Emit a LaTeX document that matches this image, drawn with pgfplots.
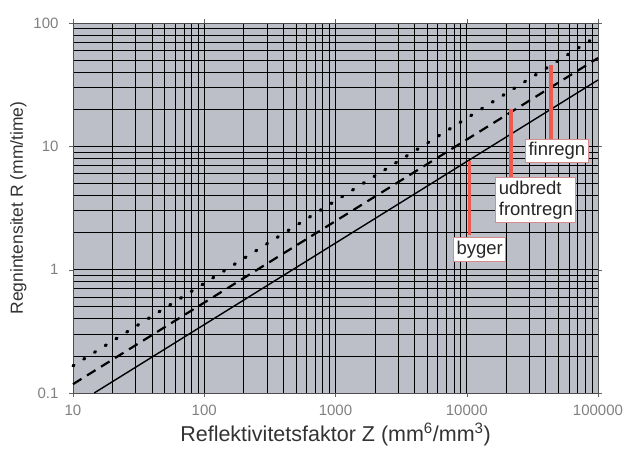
\documentclass[border=0pt]{standalone}
\usepackage{pgfplots}
\pgfplotsset{compat=1.18}
\usepackage{fontspec}
\setmainfont{Liberation Sans}
\definecolor{bggray}{RGB}{188,191,200}
\definecolor{redline}{RGB}{238,90,78}
\definecolor{boxedge}{RGB}{215,140,140}
\begin{document}
\begin{tikzpicture}
\useasboundingbox (-73pt,-60pt) rectangle (554pt,393pt);
\begin{axis}[
  scale only axis, width=525pt, height=370pt,
  xmode=log, ymode=log,
  xmin=10, xmax=100000, ymin=0.1, ymax=100,
  axis background/.style={fill=bggray},
  grid=both,
  major grid style={black, line width=0.8pt},
  minor grid style={black, line width=0.7pt},
  axis line style={black!70, line width=0.6pt},
  xtick={10,100,1000,10000,100000},
  xticklabels={10,100,1000,10000,100000},
  ytick={0.1,1,10,100},
  yticklabels={0.1,1,10,100},
  tick align=outside,
  major tick length=4pt,
  minor tick length=0pt,
  tick style={black!60},
  tick label style={font=\fontsize{15}{17}\selectfont, text=black!50},
  xticklabel style={yshift=-5pt},
  yticklabel style={xshift=-7pt},
  xlabel style={font=\fontsize{21.5}{24}\selectfont, text=black!80},
  ylabel style={font=\fontsize{17.5}{20}\selectfont, text=black!80},
  xlabel={Reflektivitetsfaktor Z (mm\textsuperscript{6}/mm\textsuperscript{3})},
  ylabel={Regnintensitet R (mm/time)},
  clip=false,
]
% dotted
\addplot[black, line width=3.2pt, line cap=round, dash pattern=on 1.2pt off 11.5pt] coordinates {(10,0.166) (100000,79)};
% dashed
\addplot[black, line width=2.2pt, dash pattern=on 10pt off 6.5pt] coordinates {(10,0.118) (100000,52)};
% solid
\addplot[black, line width=1.4pt] coordinates {(14.5,0.1) (100000,34.5)};
% red markers
\addplot[redline, line width=3.5pt] coordinates {(10500,7.6) (10500,1.9)};
\addplot[redline, line width=3.5pt] coordinates {(21700,20) (21700,5.6)};
\addplot[redline, line width=3.5pt] coordinates {(43700,45.5) (43700,11.5)};
\tikzset{lbl/.style={fill=white, draw=boxedge, line width=0.9pt, inner xsep=3pt, inner ysep=3pt, font=\fontsize{18.5}{21}\selectfont, text=black!85}}
\node[lbl] at (axis cs:12560,1.46) {byger};
\node[lbl, align=left] at (axis cs:33650,3.67) {udbredt\\frontregn};
\node[lbl] at (axis cs:48600,9.19) {finregn};
\end{axis}
\end{tikzpicture}
\end{document}
